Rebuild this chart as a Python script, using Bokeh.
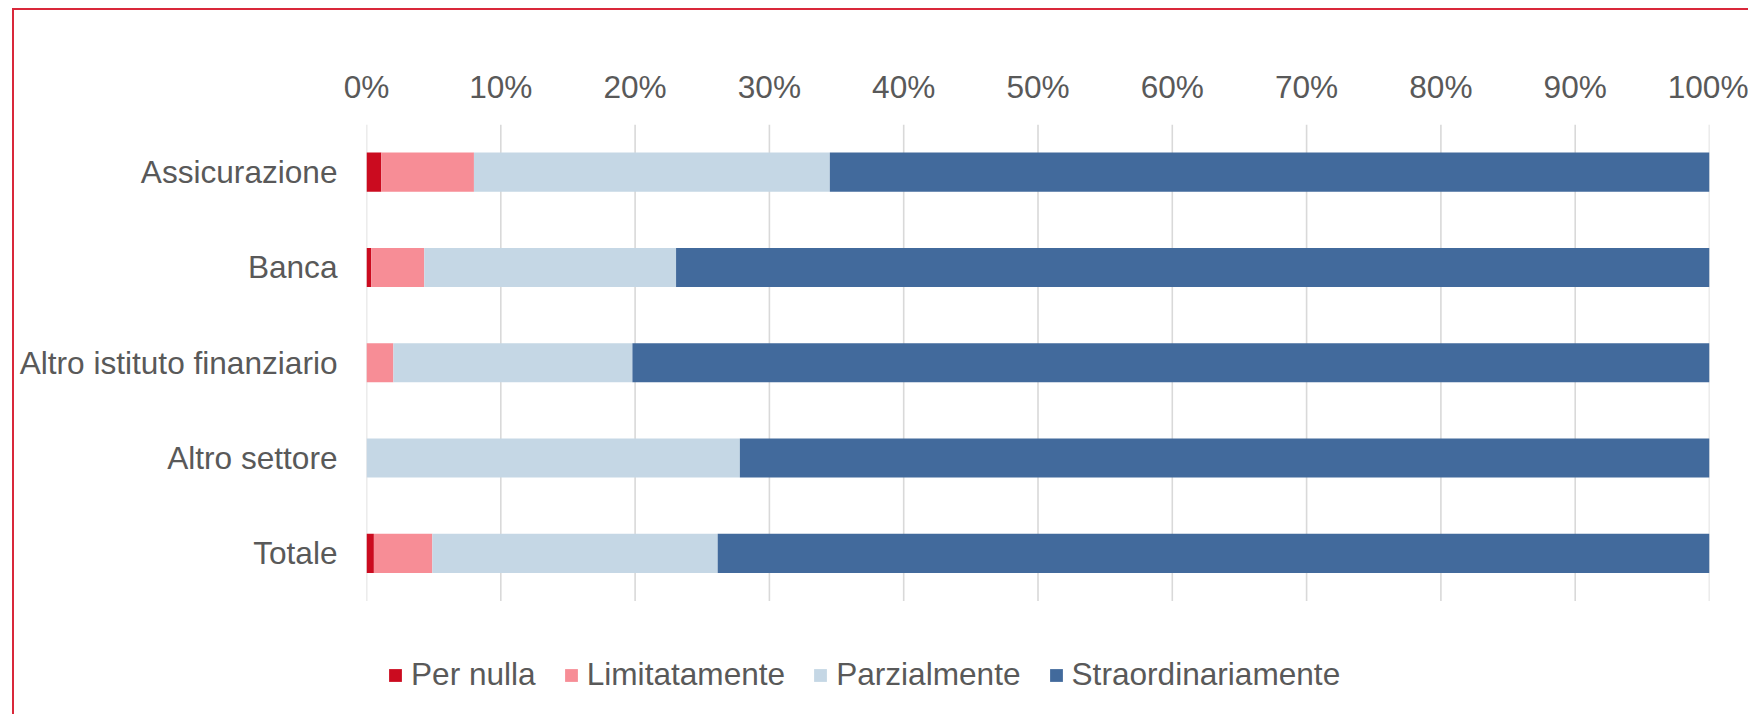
from bokeh.plotting import figure
from bokeh.models import Range1d, FixedTicker, Legend, LegendItem
from bokeh.embed import file_html
from bokeh.resources import INLINE

categories = ["Assicurazione", "Banca", "Altro istituto finanziario", "Altro settore", "Totale"]
per_nulla = [1.1, 0.35, 0.0, 0.0, 0.55]
limitatamente = [6.9, 3.95, 2.0, 0.0, 4.35]
parzialmente = [26.5, 18.75, 17.8, 27.8, 21.25]
straordinariamente = [65.5, 76.95, 80.2, 72.2, 73.85]

series_names = ["Per nulla", "Limitatamente", "Parzialmente", "Straordinariamente"]
series_keys = ["per_nulla", "limitatamente", "parzialmente", "straordinariamente"]
series_colors = ["#CB0B1F", "#F78D96", "#C5D7E5", "#426A9C"]

tick_values = [0, 10, 20, 30, 40, 50, 60, 70, 80, 90, 100]
tick_labels = ["0%", "10%", "20%", "30%", "40%", "50%", "60%", "70%", "80%", "90%", "100%"]

FONT = "Liberation Sans"
TXT = "#595959"
FS = "31.6px"

n = len(categories)
ypos = [n - 1 - i for i in range(n)]  # first category on top

data = dict(y=ypos, per_nulla=per_nulla, limitatamente=limitatamente,
            parzialmente=parzialmente, straordinariamente=straordinariamente)

cat_top = n - 0.5
cat_bottom = -0.5
# extra room below the categories for the legend (frame height 582px, 95.3px per category)
y_start = cat_top - 582 / 95.3

p = figure(width=1736, height=706, output_backend="svg", toolbar_location=None,
           y_range=Range1d(y_start, cat_top), x_range=Range1d(0, 100), x_axis_location="above",
           min_border_left=352, min_border_right=41, min_border_top=114, min_border_bottom=10)
p.styles = {"border-top": "2px solid #D9283A", "border-left": "2px solid #D9283A",
            "margin-left": "12px", "margin-top": "8px"}

# vertical grid lines limited to the category band
p.segment(x0=tick_values, x1=tick_values, y0=[cat_bottom] * len(tick_values),
          y1=[cat_top] * len(tick_values), line_color="#D9D9D9", line_width=1.6)

renderers = p.hbar_stack(series_keys, y="y", height=0.41, color=series_colors,
                         source=data, line_color=None)

p.outline_line_color = None
p.background_fill_color = "white"
p.border_fill_color = "white"
p.xgrid.grid_line_color = None
p.ygrid.grid_line_color = None

xa = p.xaxis[0]
xa.ticker = FixedTicker(ticks=tick_values)
xa.major_label_overrides = {v: l for v, l in zip(tick_values, tick_labels)}
xa.axis_line_color = None
xa.major_tick_line_color = None
xa.minor_tick_line_color = None
xa.major_label_text_font = FONT
xa.major_label_text_font_size = FS
xa.major_label_text_color = TXT
xa.major_label_standoff = 14

ya = p.yaxis[0]
ya.ticker = FixedTicker(ticks=ypos)
ya.major_label_overrides = {v: c for v, c in zip(ypos, categories)}
ya.axis_line_color = None
ya.major_tick_line_color = None
ya.minor_tick_line_color = None
ya.major_label_text_font = FONT
ya.major_label_text_font_size = FS
ya.major_label_text_color = TXT
ya.major_label_standoff = 23

legend = Legend(items=[LegendItem(label=nm, renderers=[r]) for nm, r in zip(series_names, renderers)],
                orientation="horizontal", location=(21, 13),
                glyph_width=16, glyph_height=16, label_standoff=8, spacing=27,
                padding=0, margin=0, border_line_alpha=0, background_fill_alpha=0,
                label_text_font=FONT, label_text_font_size=FS, label_text_color=TXT)
p.add_layout(legend, "center")

open("out.html", "w").write(file_html(p, INLINE))
